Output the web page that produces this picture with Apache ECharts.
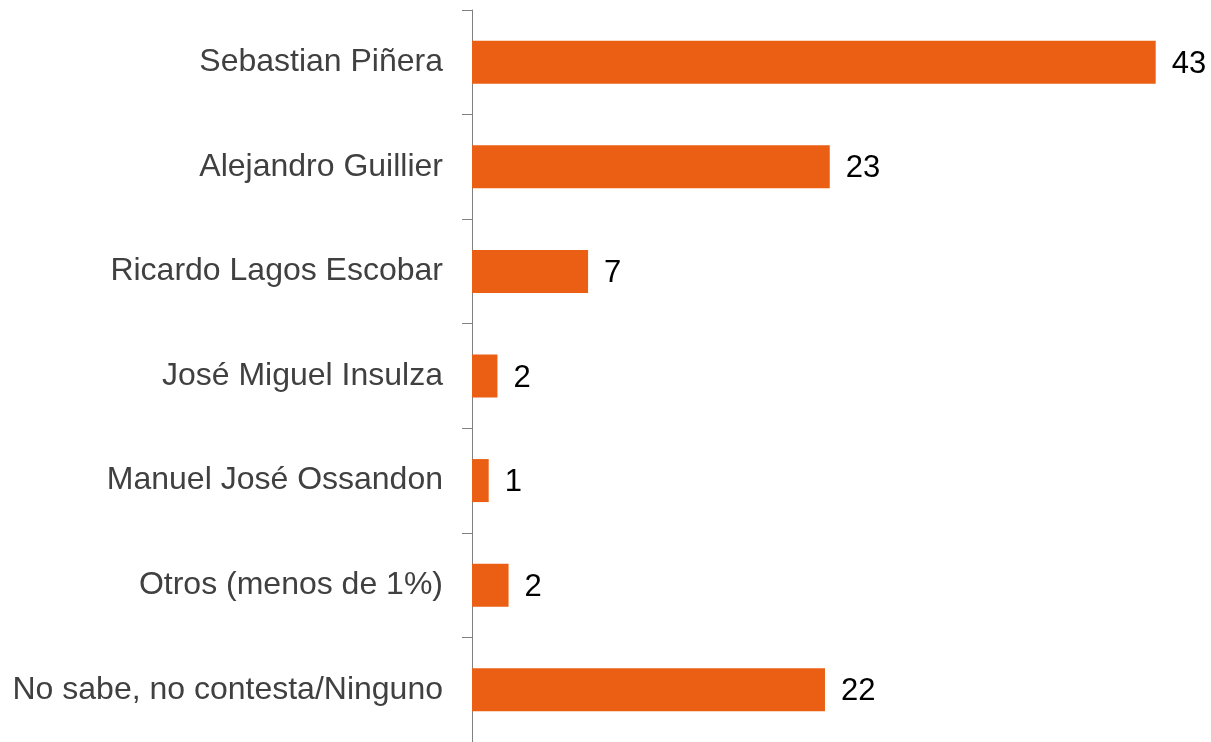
<!DOCTYPE html>
<html>
<head>
<meta charset="utf-8">
<script src="https://cdn.jsdelivr.net/npm/echarts@6/dist/echarts.min.js"></script>
<style>
  html, body { margin: 0; padding: 0; background: #fff; }
  #chart { width: 1211px; height: 742px; }
</style>
</head>
<body>
<div id="chart"></div>
<script>
const categories = [
  'Sebastian Piñera',
  'Alejandro Guillier',
  'Ricardo Lagos Escobar',
  'José Miguel Insulza',
  'Manuel José Ossandon',
  'Otros (menos de 1%)',
  'No sabe, no contesta/Ninguno'
];
const values = [43, 22.5, 7.3, 1.6, 1.05, 2.3, 22.2];

const myChart = echarts.init(document.getElementById('chart'));
myChart.setOption({
  animation: false,
  grid: {
    left: 472,
    right: 23.5,
    top: 10,
    bottom: 0
  },
  xAxis: {
    type: 'value',
    min: 0,
    max: 45,
    show: false
  },
  yAxis: {
    type: 'category',
    inverse: true,
    data: categories,
    axisLine: {
      show: true,
      lineStyle: { color: '#808080', width: 1 }
    },
    axisTick: {
      show: true,
      length: 10,
      lineStyle: { color: '#808080', width: 1 }
    },
    axisLabel: {
      margin: 29,
      fontSize: 32,
      color: '#404040',
      padding: [4, 0, 0, 0],
      fontFamily: 'Liberation Sans, Arial, sans-serif'
    },
    splitLine: { show: false }
  },
  series: [
    {
      type: 'bar',
      data: values,
      barWidth: 43,
      itemStyle: { color: '#EA5F13' },
      label: {
        show: true,
        position: 'right',
        distance: 16,
        offset: [0, 2],
        fontSize: 31,
        color: '#000',
        fontFamily: 'Liberation Sans, Arial, sans-serif',
        formatter: (p) => Math.round(p.value)
      }
    }
  ]
});
</script>
</body>
</html>
